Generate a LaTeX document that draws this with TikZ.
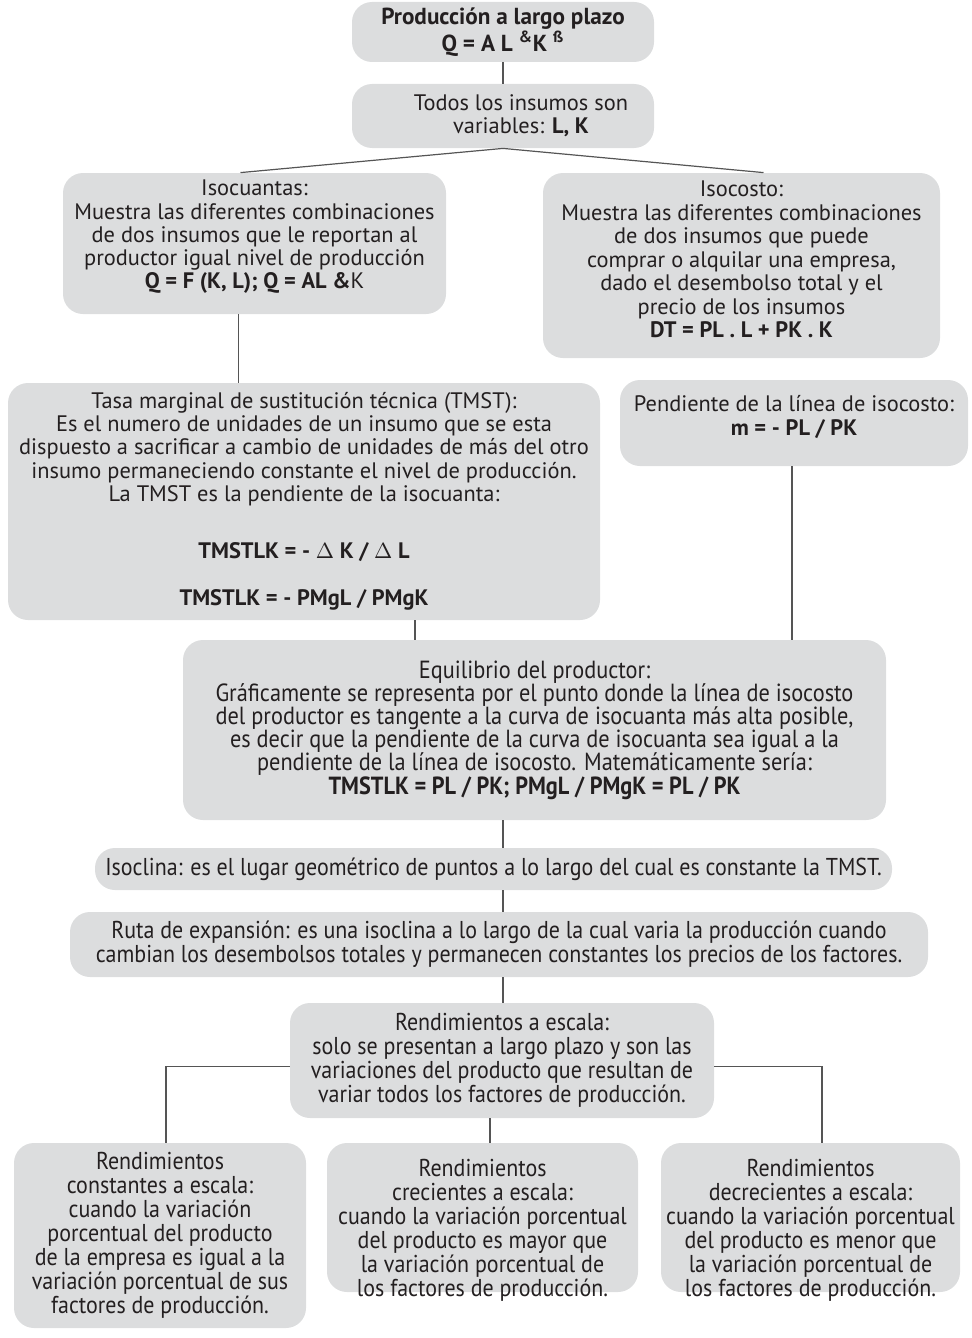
\documentclass[tikz,border=0pt]{standalone}
\usepackage{fontspec}
\setmainfont{PT Sans}
\newfontfamily\narrowfont[FakeStretch=0.9]{PT Sans}
\usetikzlibrary{calc}
\definecolor{boxgray}{RGB}{220,221,222}
\definecolor{linegray}{RGB}{85,85,85}
\definecolor{inkblack}{RGB}{35,31,32}
\tikzset{
  box/.style={fill=boxgray, rounded corners=10pt, align=center, inner sep=0pt,
    text=inkblack, font=\fontsize{11.2}{11.6}\selectfont},
  narrowbox/.style={box, font=\narrowfont\fontsize{12.2}{12}\selectfont},
  link/.style={draw=linegray, line width=0.6pt}
}
\begin{document}
\begin{tikzpicture}[x=0.5pt,y=-0.5pt]
\useasboundingbox (0,0) rectangle (971,1338);

% top of the chart
\node[box, minimum width=151pt, minimum height=30pt, font=\fontsize{11.6}{11.2}\selectfont] (A) at (503,32)
  {\bfseries Producción a largo plazo\\\bfseries Q = A L \textsuperscript{\&}K \textsuperscript{ß}};
\node[box, minimum width=151pt, minimum height=32pt] (B) at (503,116)
  {\hspace*{18pt}Todos los insumos son\\\hspace*{18pt}variables: \textbf{L, K}};

% isoquants and isocost
\node[box, minimum width=191.5pt, minimum height=70.5pt] (C) at (254.5,243.5)
  {Isocuantas:\\Muestra las diferentes combinaciones\\de dos insumos que le reportan al\\productor igual nivel de producción\\\textbf{Q = F (K, L); Q = AL \&}K\\[-2.6pt]};
\node[box, minimum width=198.5pt, minimum height=92.5pt, font=\fontsize{11.2}{11.75}\selectfont] (D) at (741.5,265.5)
  {Isocosto:\\Muestra las diferentes combinaciones\\de dos insumos que puede\\comprar o alquilar una empresa,\\dado el desembolso total y el\\precio de los insumos\\\textbf{DT = PL . L + PK . K}\\[-5.75pt]};

% marginal rate and isocost slope
\node[box, minimum width=296pt, minimum height=118.5pt] (E) at (304,501.5)
  {Tasa marginal de sustitución técnica (TMST):\\Es el numero de unidades de un insumo que se esta\\dispuesto a sacrificar a cambio de unidades de más del otro\\insumo permaneciendo constante el nivel de producción.\\La TMST es la pendiente de la isocuanta:\\[17pt]\textbf{TMSTLK = - $\Delta$ K / $\Delta$ L}\\[12pt]\textbf{TMSTLK = - PMgL / PMgK}};
\node[box, minimum width=174pt, minimum height=43pt] (F) at (794,423)
  {Pendiente de la línea de isocosto:\\\textbf{m = - PL / PK}\\[-4pt]};

% producer equilibrium and below
\node[narrowbox, minimum width=351.5pt, minimum height=90pt, font=\narrowfont\fontsize{12.4}{11.6}\selectfont] (G) at (534.5,730)
  {Equilibrio del productor:\\Gráficamente se representa por el punto donde la línea de isocosto\\del productor es tangente a la curva de isocuanta más alta posible,\\es decir que la pendiente de la curva de isocuanta sea igual a la\\pendiente de la línea de isocosto. Matemáticamente sería:\\\textbf{TMSTLK = PL / PK; PMgL / PMgK = PL / PK}\\[-9pt]};
\node[narrowbox, minimum width=398.5pt, minimum height=21pt] (H) at (493.5,869)
  {Isoclina: es el lugar geométrico de puntos a lo largo del cual es constante la TMST.};
\node[narrowbox, minimum width=429pt, minimum height=32.5pt] (I) at (499,944.5)
  {Ruta de expansión: es una isoclina a lo largo de la cual varia la producción cuando\\cambian los desembolsos totales y permanecen constantes los precios de los factores.};
\node[narrowbox, minimum width=212pt, minimum height=57.5pt] (J) at (502,1060.5)
  {Rendimientos a escala:\\solo se presentan a largo plazo y son las\\variaciones del producto que resultan de\\variar todos los factores de producción.};

% returns to scale
\node[narrowbox, minimum width=146pt, minimum height=92.5pt] (K1) at (160,1235.5)
  {Rendimientos\\constantes a escala:\\cuando la variación\\porcentual del producto\\de la empresa es igual a la\\variación porcentual de sus\\factores de producción.};
\node[narrowbox, minimum width=155.5pt, minimum height=74.5pt] (K2) at (482.5,1217.5)
  {Rendimientos\\crecientes a escala:\\cuando la variación porcentual\\del producto es mayor que\\la variación porcentual de\\los factores de producción.\\[-22pt]};
\node[narrowbox, minimum width=149.5pt, minimum height=74.5pt] (K3) at (810.5,1217.5)
  {Rendimientos\\decrecientes a escala:\\cuando la variación porcentual\\del producto es menor que\\la variación porcentual de\\los factores de producción.\\[-22pt]};

% connectors
\draw[link] (A.south) -- (B.north);
\draw[link] (B.south) -- ([xshift=-7pt]C.north);
\draw[link] (B.south) -- ([xshift=11pt]D.north);
\draw[link] ([xshift=-8pt]C.south) -- ([xshift=-8pt]C.south |- E.north);
\draw[link] ([xshift=55.5pt]E.south) -- ([xshift=55.5pt]E.south |- G.north);
\draw[link] ([xshift=-1pt]F.south) -- ([xshift=-1pt]F.south |- G.north);
\draw[link] ([xshift=-15.75pt]G.south) -- ([xshift=-15.75pt]G.south |- H.north);
\draw[link] ([xshift=4.75pt]H.south) -- ([xshift=4.75pt]H.south |- I.north);
\draw[link] ([xshift=2pt]I.south) -- ([xshift=2pt]I.south |- J.north);
\draw[link] ([yshift=-3pt]J.west) -| ([xshift=3pt]K1.north);
\draw[link] ([xshift=-6pt]J.south) -- ([xshift=-6pt]J.south |- K2.north);
\draw[link] ([yshift=-3pt]J.east) -| ([xshift=5.75pt]K3.north);
\end{tikzpicture}
\end{document}
